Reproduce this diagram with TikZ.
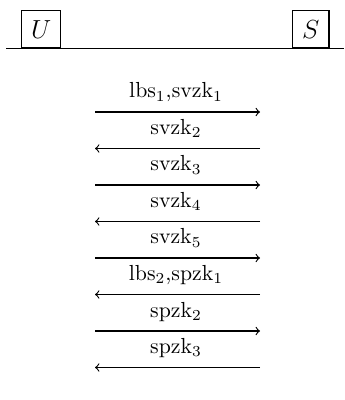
\documentclass[tikz,border=0pt]{standalone}
\begin{document}
\begin{tikzpicture}[x=0.459pt,y=-0.459pt,line width=0.5pt,
  party/.style={draw,inner sep=4.4pt,font=\large,anchor=south},
  msg/.style={->},
  lbl/.style={inner sep=1pt,anchor=base}]
\useasboundingbox (0,0) rectangle (344,400);
\node[party] (U) at (41.2,48.3) {$U$};
\node[party] (S) at (310.8,48.3) {$S$};
\coordinate (L0) at (6,48.3);
\coordinate (R0) at (344,48.3);
\draw (L0) -- (R0);
\foreach \i/\y/\d/\t in {1/112/r/{lbs$_1$,svzk$_1$},2/148.5/l/{svzk$_2$},3/185/r/{svzk$_3$},4/221.5/l/{svzk$_4$},5/258/r/{svzk$_5$},6/294.5/l/{lbs$_2$,spzk$_1$},7/331/r/{spzk$_2$},8/367.5/l/{spzk$_3$}}{
  \coordinate (a\i) at (95,\y);
  \coordinate (b\i) at (260,\y);
  \node[lbl] (t\i) at (176,\y-14) {\t};
  \if r\d
    \draw[msg] (a\i) -- (b\i);
  \else
    \draw[msg] (b\i) -- (a\i);
  \fi
}
\end{tikzpicture}
\end{document}
